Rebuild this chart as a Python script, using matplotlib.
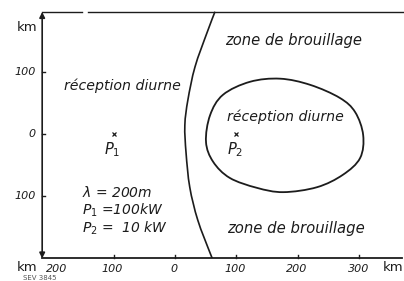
import numpy as np
import matplotlib
matplotlib.use("Agg")
import matplotlib.pyplot as plt
from matplotlib.path import Path
from matplotlib.patches import PathPatch

# ---- data (km) ----
x_ticks = [-100, 0, 100, 200, 300]
x_tick_labels = ["100", "0", "100", "200", "300"]
y_ticks = [100, 0, -100]
y_tick_labels = ["100", "0", "100"]

stations = {"P1": (-100, 0), "P2": (100, 0)}

# boundary between day reception of P1 and interference zone
boundary_x = [65, 52, 32.5, 21, 16, 18, 24, 37, 57, 60]
boundary_y = [198, 164, 109, 56, 15, -30, -85, -138, -191, -198]

# closed contour: day reception zone of P2
blob_x = [50.4, 57, 78, 122, 171, 220, 268, 293, 306, 301, 273, 231, 176, 133, 89, 62]
blob_y = [-12, 31, 64, 85, 90, 80, 59, 36, -1, -38, -65, -85, -93, -86, -70, -44]

legend_lines = [r"$\lambda$ = 200m", r"$P_1$ =100kW", r"$P_2$ =  10 kW"]

INK = "#1c1c1c"


def catmull_path(xs, ys, closed):
    P = np.column_stack([xs, ys]).astype(float)
    n = len(P)
    if closed:
        get = lambda i: P[i % n]
        segs = n
    else:
        def get(i):
            return P[min(max(i, 0), n - 1)]
        segs = n - 1
    verts = [get(0)]
    codes = [Path.MOVETO]
    for i in range(segs):
        p0, p1, p2, p3 = get(i - 1), get(i), get(i + 1), get(i + 2)
        c1 = p1 + (p2 - p0) / 6.0
        c2 = p2 - (p3 - p1) / 6.0
        verts += [c1, c2, p2]
        codes += [Path.CURVE4] * 3
    return Path(verts, codes)


fig = plt.figure(figsize=(4.04, 2.81), dpi=100)
fig.patch.set_facecolor("white")
ax = fig.add_axes([0, 0, 1, 1])
ax.set_xlim(-284.6, 372.4)
ax.set_ylim(-236.3, 216.9)
ax.axis("off")

x_left, y_bot, y_top, x_right = -216, -200, 197.6, 369

# axes lines
ax.annotate("", xy=(x_left, y_top), xytext=(x_left, y_bot),
            arrowprops=dict(arrowstyle="<|-|>", color=INK, lw=1.2,
                            mutation_scale=8, shrinkA=0, shrinkB=0))
ax.plot([x_left, x_right], [y_bot, y_bot], color=INK, lw=1.3)
# top frame line with small gap
ax.plot([x_left, -151], [y_top, y_top], color=INK, lw=1.0)
ax.plot([-141, 372.4], [y_top, y_top], color=INK, lw=1.0)

# ticks
for xt, lab in zip(x_ticks, x_tick_labels):
    ax.plot([xt, xt], [y_bot, y_bot + 6], color=INK, lw=1.0)
    ax.text(xt - 2, y_bot - 17, lab, ha="center", va="center",
            fontsize=8, style="italic", color=INK)
ax.text(-192, y_bot - 17, "200", ha="center", va="center",
        fontsize=8, style="italic", color=INK)
for yt, lab in zip(y_ticks, y_tick_labels):
    ax.plot([x_left, x_left + 5], [yt, yt], color=INK, lw=1.0)
    ax.text(x_left - 10, yt, lab, ha="right", va="center",
            fontsize=8, style="italic", color=INK)

ax.text(-240, 172, "km", ha="center", va="center", fontsize=9.5, color=INK)
ax.text(-240, -215, "km", ha="center", va="center", fontsize=9.5, color=INK)
ax.text(354, -215, "km", ha="center", va="center", fontsize=9.5, color=INK)
ax.text(-248, -232, "SEV 3845", ha="left", va="center", fontsize=5,
        color="#555555")

# curves
ax.add_patch(PathPatch(catmull_path(boundary_x, boundary_y, False),
                       fill=False, ec=INK, lw=1.2))
ax.add_patch(PathPatch(catmull_path(blob_x, blob_y, True),
                       fill=False, ec=INK, lw=1.3))

# stations
for name, (sx, sy) in stations.items():
    ax.plot(sx, sy, marker="x", ms=3.5, mew=0.9, color=INK)
    ax.text(sx - 3, sy - 25, rf"$P_{name[1]}$", ha="center", va="center",
            fontsize=10.5, color=INK)

# region labels
ax.text(-85, 79, "réception diurne", ha="center", va="center",
        fontsize=10.2, style="italic", color=INK)
ax.text(180, 28, "réception diurne", ha="center", va="center",
        fontsize=10.2, style="italic", color=INK)
ax.text(193.5, 152, "zone de brouillage", ha="center", va="center",
        fontsize=10.6, style="italic", color=INK)
ax.text(197, -151, "zone de brouillage", ha="center", va="center",
        fontsize=10.7, style="italic", color=INK)

for i, line in enumerate(legend_lines):
    ax.text(-151, -93 - 29 * i, line, ha="left", va="center",
            fontsize=10, style="italic", color=INK)

fig.savefig("out.png", dpi=100, facecolor="white")
